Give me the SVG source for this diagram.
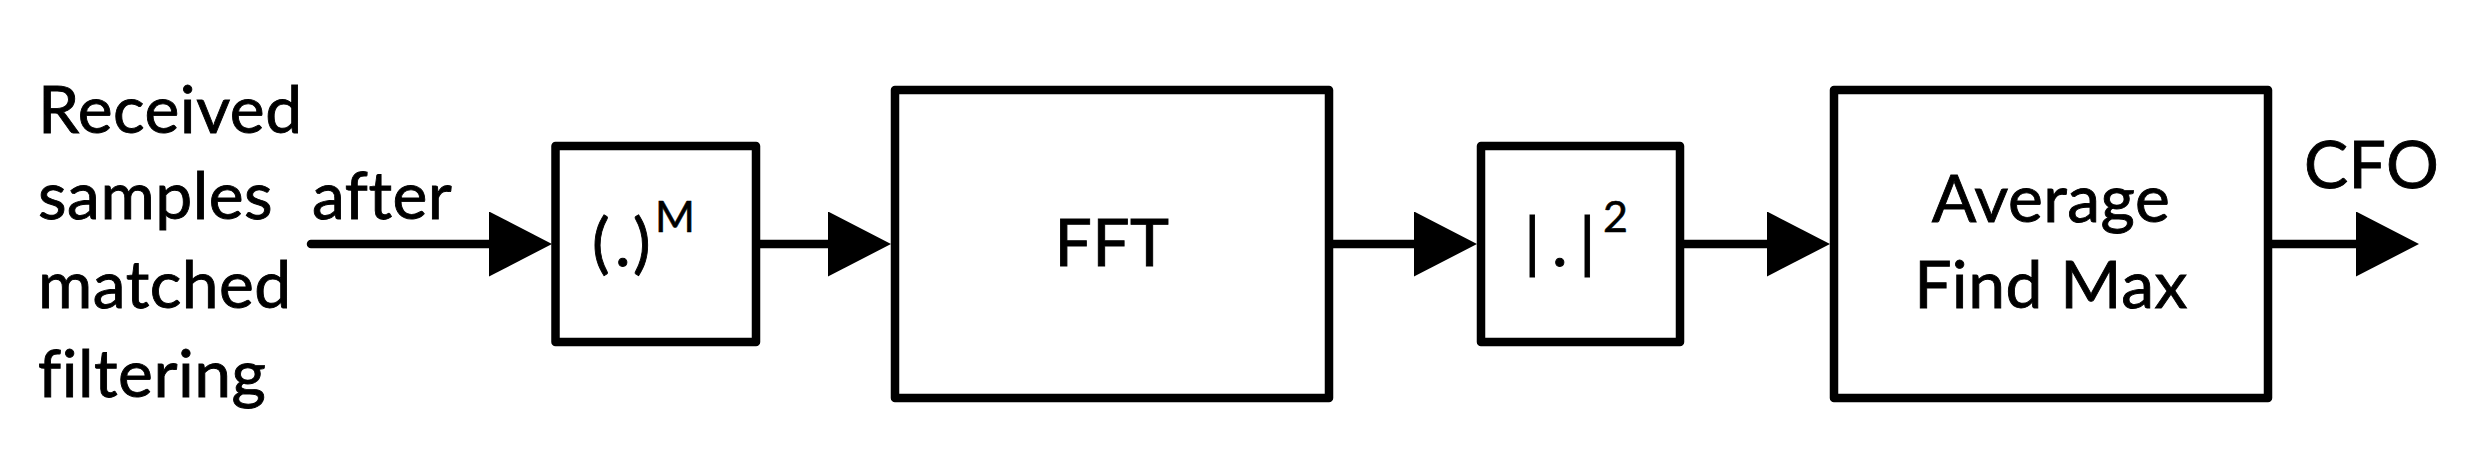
<svg xmlns="http://www.w3.org/2000/svg" width="2474" height="450" viewBox="0 0 2474 450">
<style>
.box{fill:#fff;stroke:#000;stroke-width:8.5;stroke-linejoin:round}
.t{font-family:Lato,"Open Sans",sans-serif;font-size:66px;letter-spacing:0.5px;fill:#000;stroke:#000;stroke-width:0.9}
.sup{font-family:Lato,"Open Sans",sans-serif;font-size:43px;fill:#000;stroke:#000;stroke-width:0.6}
.c{text-anchor:middle}
.wire{stroke:#000;stroke-width:8.5;fill:none;marker-end:url(#ah)}
</style>
<defs>
<marker id="ah" markerUnits="userSpaceOnUse" markerWidth="64" markerHeight="66" refX="13" refY="32.5" orient="auto">
<path d="M0,0 L63,32.5 L0,65 Z" fill="#000"/>
</marker>
</defs>
<rect width="2474" height="450" fill="#fff"/>
<g id="input-label">
<text class="t" x="38" y="133">Received</text>
<text class="t" x="38" y="219">samples</text>
<text class="t" x="312" y="219">after</text>
<text class="t" x="38" y="308">matched</text>
<text class="t" x="38" y="397">filtering</text>
</g>
<g id="connectors">
<path class="wire" d="M311,244 H502" stroke-linecap="round"/>
<path class="wire" d="M760,244 H841"/>
<path class="wire" d="M1333,244 H1427"/>
<path class="wire" d="M1684,244 H1780"/>
<path class="wire" d="M2272,244 H2369"/>
</g>
<g id="power-m">
<rect class="box" x="555.5" y="146" width="200.5" height="196"/>
<text class="t" x="592 615 633" y="266">(.)</text>
<text class="sup" x="655" y="232">M</text>
</g>
<g id="fft">
<rect class="box" x="895" y="90" width="434" height="308"/>
<text class="t c" x="1112" y="266">FFT</text>
</g>
<g id="abs-sq">
<rect class="box" x="1481" y="146" width="199" height="196"/>
<text class="t" x="1524 1552 1579" y="266">|.|</text>
<text class="sup" x="1603" y="232">2</text>
</g>
<g id="avg-max">
<rect class="box" x="1834" y="90" width="434" height="308"/>
<text class="t c" x="2051" y="222">Average</text>
<text class="t c" x="2051" y="308">Find Max</text>
</g>
<g id="output-label">
<text class="t" x="2304" y="188">CFO</text>
</g>
</svg>
